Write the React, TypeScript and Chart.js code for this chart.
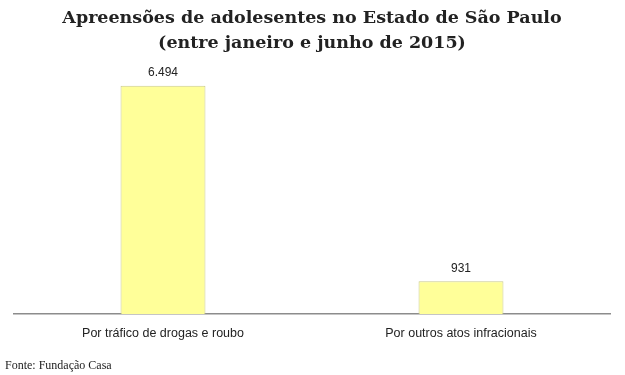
import React, { useEffect, useRef } from "react";
import { Chart, registerables } from "chart.js";

Chart.register(...registerables);

const titleLines = ["Apreensões de adolesentes no Estado de São Paulo", "(entre janeiro e junho de 2015)"];
const categories = ["Por tráfico de drogas e roubo", "Por outros atos infracionais"];
const values = [6494, 931];
const valueLabels = ["6.494", "931"];
const sourceText = "Fonte: Fundação Casa";

const valueLabelPlugin = {
  id: "valueLabels",
  afterDatasetsDraw(chart: any) {
    const ctx = chart.ctx;
    const meta = chart.getDatasetMeta(0);
    ctx.save();
    ctx.font = "12px 'Liberation Sans', Arial, sans-serif";
    ctx.fillStyle = "#222";
    ctx.textAlign = "center";
    ctx.textBaseline = "middle";
    meta.data.forEach((el: any, i: number) => {
      ctx.fillText(valueLabels[i], el.x, el.y - 13);
    });
    ctx.restore();
  },
};

const sourcePlugin = {
  id: "sourceText",
  afterDraw(chart: any) {
    const ctx = chart.ctx;
    ctx.save();
    ctx.font = "12px 'Liberation Serif', serif";
    ctx.fillStyle = "#222";
    ctx.textAlign = "left";
    ctx.textBaseline = "middle";
    ctx.fillText(sourceText, 5, 366);
    ctx.restore();
  },
};

export default function App() {
  const ref = useRef<HTMLCanvasElement>(null);
  useEffect(() => {
    if (!ref.current) return;
    const chart = new Chart(ref.current, {
      type: "bar",
      data: {
        labels: categories,
        datasets: [
          {
            data: values,
            backgroundColor: "#ffff99",
            borderColor: "#caca8c",
            borderWidth: 1,
            categoryPercentage: 1,
            barPercentage: 0.285,
          },
        ],
      },
      options: {
        responsive: false,
        animation: false,
        layout: { padding: { left: 14, right: 15, top: 6, bottom: 22 } },
        plugins: {
          legend: { display: false },
          tooltip: { enabled: false },
          title: {
            display: true,
            text: titleLines,
            color: "#222",
            font: { family: "'DejaVu Serif', serif", size: 17.5, weight: "bold", lineHeight: 1.43 },
            padding: { top: 0, bottom: 12 },
          },
        },
        scales: {
          x: {
            grid: { display: false, drawTicks: false },
            border: { display: true, color: "#8c8c8c", width: 1.5 },
            ticks: {
              color: "#222",
              padding: 12,
              font: { family: "'Liberation Sans', Arial, sans-serif", size: 12.5 },
            },
          },
          y: {
            display: false,
            min: 0,
            max: 7000,
          },
        },
      },
      plugins: [valueLabelPlugin, sourcePlugin],
    });
    return () => chart.destroy();
  }, []);
  return (
    <div style={{ position: "absolute", left: 0, top: 0, width: 625, height: 375, background: "#fff" }}>
      <canvas ref={ref} width={625} height={375} style={{ display: "block" }} />
    </div>
  );
}
